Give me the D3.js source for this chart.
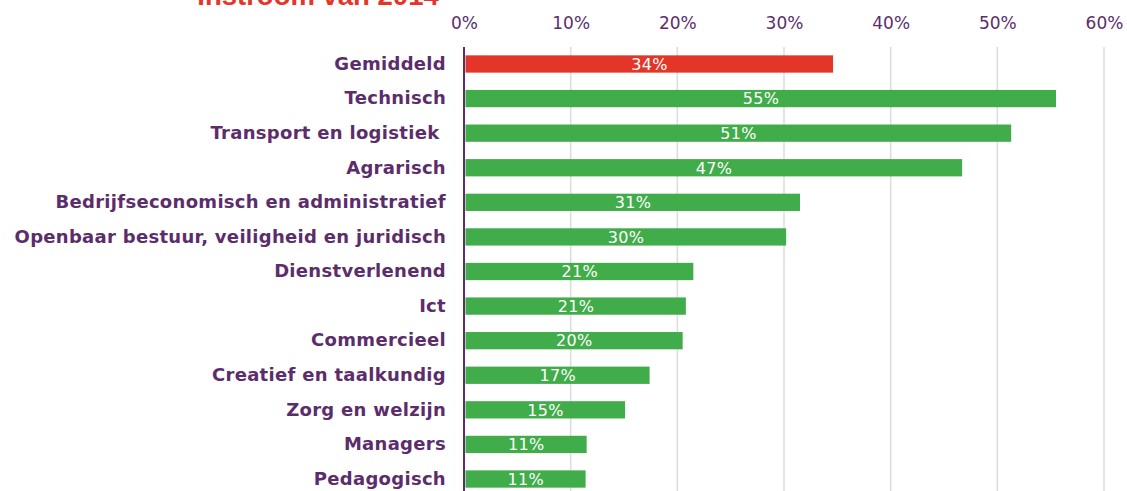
<!DOCTYPE html>
<html><head><meta charset="utf-8">
<script src="https://cdn.jsdelivr.net/npm/d3@7"></script>
<style>
html,body{margin:0;padding:0;background:#fff;overflow:hidden}
svg{display:block}
</style></head>
<body>
<svg id="chart" width="1127" height="491"></svg>
<script>
const title = "Instroom van 2014";
const categories = ["Gemiddeld","Technisch","Transport en logistiek ","Agrarisch","Bedrijfseconomisch en administratief","Openbaar bestuur, veiligheid en juridisch","Dienstverlenend","Ict","Commercieel","Creatief en taalkundig","Zorg en welzijn","Managers","Pedagogisch"];
const values = [0.346,0.555,0.513,0.467,0.315,0.302,0.215,0.208,0.205,0.174,0.151,0.115,0.114];
const valueLabels = ["34%","55%","51%","47%","31%","30%","21%","21%","20%","17%","15%","11%","11%"];
const ticks = [0,0.1,0.2,0.3,0.4,0.5,0.6];

const purple = "#5b2d6b", red = "#e43628", green = "#41ad4a", grid = "#dcdcdc";
const svg = d3.select("#chart");
const x = d3.scaleLinear().domain([0,0.6]).range([464,1104]);
const y = d3.scaleBand().domain(categories).range([46.7,496.3]).paddingInner(0.5).paddingOuter(0.25);

// title (cut off at top, as in the original)
svg.append("text").attr("x",318).attr("y",5).attr("text-anchor","middle")
  .attr("font-family","Liberation Sans, Arial, sans-serif").attr("font-weight","bold")
  .attr("font-size",27.5).attr("fill",red).text(title);

// gridlines
svg.append("g").selectAll("line").data(ticks.slice(1)).join("line")
  .attr("x1",d=>x(d)).attr("x2",d=>x(d)).attr("y1",47).attr("y2",491)
  .attr("stroke",grid).attr("stroke-width",1.5);

// top axis labels
const xAxis = d3.axisTop(x).tickValues(ticks).tickFormat(d3.format(".0%")).tickSize(0).tickPadding(0);
const ax = svg.append("g").attr("transform","translate(0,29)").call(xAxis);
ax.select(".domain").remove();
ax.selectAll("text").attr("font-family","DejaVu Sans, Verdana, sans-serif").attr("font-size",17).attr("fill",purple);

// bars
svg.append("g").selectAll("rect").data(categories).join("rect")
  .attr("x",x(0)+1.5).attr("y",d=>y(d)).attr("height",y.bandwidth())
  .attr("width",(d,i)=>x(values[i])-x(0)-1.5)
  .attr("fill",(d,i)=>i===0?red:green);

// value labels
svg.append("g").selectAll("text").data(categories).join("text")
  .attr("x",(d,i)=>(x(0)+x(values[i]))/2+1).attr("y",d=>y(d)+y.bandwidth()/2)
  .attr("dy","0.36em").attr("text-anchor","middle")
  .attr("font-family","DejaVu Sans, Verdana, sans-serif").attr("font-size",16).attr("letter-spacing",0.3).attr("fill","#fff")
  .text((d,i)=>valueLabels[i]);

// category axis
const yAxis = d3.axisLeft(y).tickSize(0).tickPadding(18);
const ay = svg.append("g").attr("transform",`translate(${x(0)},0)`).call(yAxis);
ay.select(".domain").remove();
ay.selectAll("text").attr("font-family","DejaVu Sans, Verdana, sans-serif").attr("font-weight","bold")
  .attr("font-size",18).attr("letter-spacing",0.3).attr("fill",purple).style("white-space","pre");
svg.append("line").attr("x1",x(0)).attr("x2",x(0)).attr("y1",47).attr("y2",491)
  .attr("stroke",purple).attr("stroke-width",2);
</script>
</body></html>
